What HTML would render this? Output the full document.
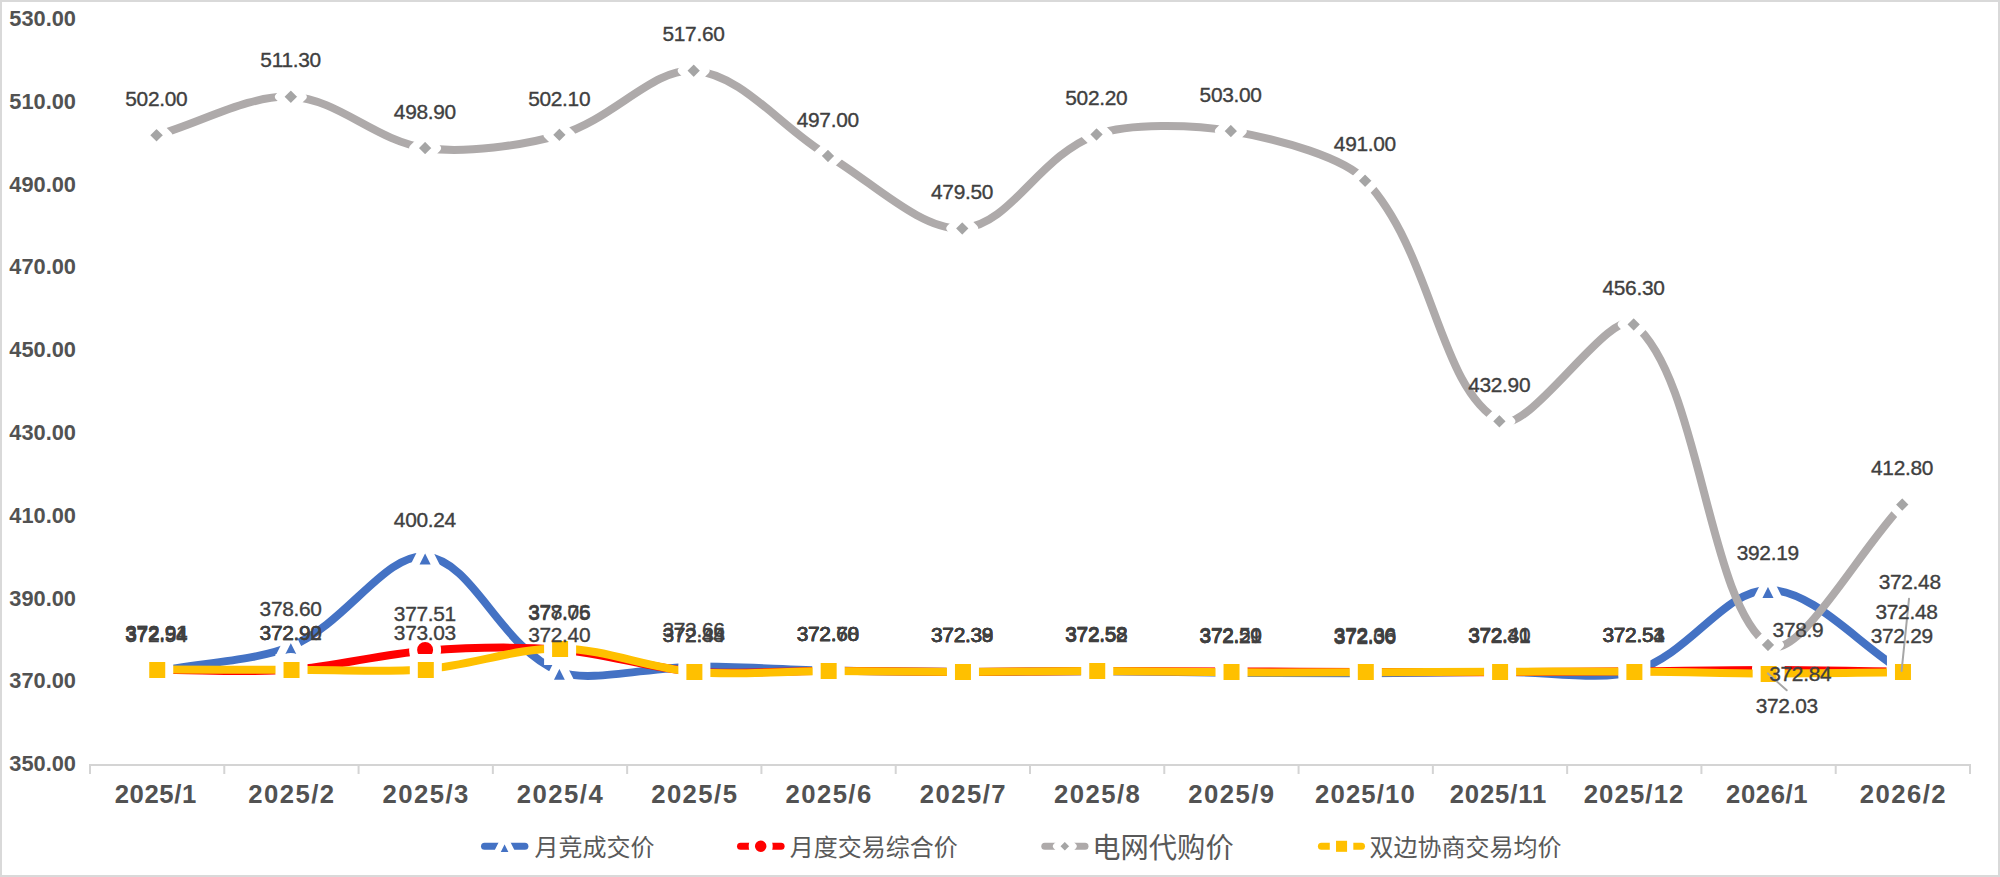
<!DOCTYPE html>
<html lang="zh-CN"><head><meta charset="utf-8"><title>chart</title>
<style>
html,body{margin:0;padding:0;background:#fff;}
body{width:2000px;height:877px;overflow:hidden;}
svg{display:block;}
text{font-family:"Liberation Sans","Noto Sans CJK SC",sans-serif;}
.ya{font-weight:bold;font-size:21.8px;fill:#525252;}
.xa{font-weight:bold;font-size:25.7px;letter-spacing:0.6px;fill:#525252;}
.dl{font-size:20.9px;letter-spacing:-0.3px;fill:#404040;stroke:#404040;stroke-width:0.35px;}
.lg{font-family:"Liberation Sans","Noto Sans CJK SC",sans-serif;font-size:24px;fill:#595959;}
</style></head><body>
<svg width="2000" height="877" viewBox="0 0 2000 877">
<rect x="0" y="0" width="2000" height="877" fill="#fff"/>
<rect x="1" y="1" width="1998" height="875" fill="none" stroke="#D9D9D9" stroke-width="2"/>
<g stroke="#D4D4D4" stroke-width="2" fill="none">
<line x1="89" y1="765" x2="1971" y2="765"/>
<line x1="90" y1="765" x2="90" y2="774"/>
<line x1="224.29" y1="765" x2="224.29" y2="774"/>
<line x1="358.57" y1="765" x2="358.57" y2="774"/>
<line x1="492.86" y1="765" x2="492.86" y2="774"/>
<line x1="627.14" y1="765" x2="627.14" y2="774"/>
<line x1="761.43" y1="765" x2="761.43" y2="774"/>
<line x1="895.71" y1="765" x2="895.71" y2="774"/>
<line x1="1030" y1="765" x2="1030" y2="774"/>
<line x1="1164.29" y1="765" x2="1164.29" y2="774"/>
<line x1="1298.57" y1="765" x2="1298.57" y2="774"/>
<line x1="1432.86" y1="765" x2="1432.86" y2="774"/>
<line x1="1567.14" y1="765" x2="1567.14" y2="774"/>
<line x1="1701.43" y1="765" x2="1701.43" y2="774"/>
<line x1="1835.71" y1="765" x2="1835.71" y2="774"/>
<line x1="1970" y1="765" x2="1970" y2="774"/>
</g>
<g class="ya" text-anchor="end">
<text x="76" y="771.2">350.00</text>
<text x="76" y="688.39">370.00</text>
<text x="76" y="605.58">390.00</text>
<text x="76" y="522.76">410.00</text>
<text x="76" y="439.95">430.00</text>
<text x="76" y="357.14">450.00</text>
<text x="76" y="274.33">470.00</text>
<text x="76" y="191.52">490.00</text>
<text x="76" y="108.7">510.00</text>
<text x="76" y="25.89">530.00</text>
</g>
<g class="xa" text-anchor="middle">
<text x="155.74" y="803" style="letter-spacing:0.6px">2025/1</text>
<text x="291.93" y="803" style="letter-spacing:1.45px">2025/2</text>
<text x="426.21" y="803" style="letter-spacing:1.45px">2025/3</text>
<text x="560.5" y="803" style="letter-spacing:1.45px">2025/4</text>
<text x="694.79" y="803" style="letter-spacing:1.45px">2025/5</text>
<text x="829.07" y="803" style="letter-spacing:1.45px">2025/6</text>
<text x="963.36" y="803" style="letter-spacing:1.45px">2025/7</text>
<text x="1097.64" y="803" style="letter-spacing:1.45px">2025/8</text>
<text x="1231.93" y="803" style="letter-spacing:1.45px">2025/9</text>
<text x="1365.51" y="803" style="letter-spacing:1.15px">2025/10</text>
<text x="1498.4" y="803" style="letter-spacing:0.85px">2025/11</text>
<text x="1634.09" y="803" style="letter-spacing:1.15px">2025/12</text>
<text x="1767.17" y="803" style="letter-spacing:0.6px">2026/1</text>
<text x="1903.36" y="803" style="letter-spacing:1.45px">2026/2</text>
</g>
<g>
<path d="M157.14 671.27C201.9 662.91 257.96 660.47 291.43 646.18C347.49 622.24 385.16 552.7 425.71 556.58C474.68 561.26 498.54 646.67 560 671.85C588.07 683.35 649.49 666.84 694.29 666.63C739.01 666.43 783.76 669.73 828.57 670.61C873.29 671.48 918.09 671.77 962.86 671.89C1007.61 672.02 1052.39 671.23 1097.14 671.35C1141.91 671.48 1186.66 672.32 1231.43 672.64C1276.19 672.95 1320.96 673.39 1365.71 673.26C1410.48 673.13 1455.23 672.18 1500 671.85C1544.76 671.52 1601.2 681.37 1634.29 671.27C1690.72 654.05 1723.85 589.87 1768.57 589.91C1813.38 589.95 1858.1 644.32 1902.86 671.52" fill="none" stroke="#4472C4" stroke-width="8" stroke-linecap="round" stroke-linejoin="round"/>
<polygon points="156.54,659.27 168.54,683.27 144.54,683.27" fill="#4472C4" stroke="#fff" stroke-width="8" stroke-linejoin="miter" stroke-miterlimit="10"/>
<polygon points="290.83,634.18 302.83,658.18 278.83,658.18" fill="#4472C4" stroke="#fff" stroke-width="8" stroke-linejoin="miter" stroke-miterlimit="10"/>
<polygon points="425.11,544.58 437.11,568.58 413.11,568.58" fill="#4472C4" stroke="#fff" stroke-width="8" stroke-linejoin="miter" stroke-miterlimit="10"/>
<polygon points="559.4,659.85 571.4,683.85 547.4,683.85" fill="#4472C4" stroke="#fff" stroke-width="8" stroke-linejoin="miter" stroke-miterlimit="10"/>
<polygon points="693.69,654.63 705.69,678.63 681.69,678.63" fill="#4472C4" stroke="#fff" stroke-width="8" stroke-linejoin="miter" stroke-miterlimit="10"/>
<polygon points="827.97,658.61 839.97,682.61 815.97,682.61" fill="#4472C4" stroke="#fff" stroke-width="8" stroke-linejoin="miter" stroke-miterlimit="10"/>
<polygon points="962.26,659.89 974.26,683.89 950.26,683.89" fill="#4472C4" stroke="#fff" stroke-width="8" stroke-linejoin="miter" stroke-miterlimit="10"/>
<polygon points="1096.54,659.35 1108.54,683.35 1084.54,683.35" fill="#4472C4" stroke="#fff" stroke-width="8" stroke-linejoin="miter" stroke-miterlimit="10"/>
<polygon points="1230.83,660.64 1242.83,684.64 1218.83,684.64" fill="#4472C4" stroke="#fff" stroke-width="8" stroke-linejoin="miter" stroke-miterlimit="10"/>
<polygon points="1365.11,661.26 1377.11,685.26 1353.11,685.26" fill="#4472C4" stroke="#fff" stroke-width="8" stroke-linejoin="miter" stroke-miterlimit="10"/>
<polygon points="1499.4,659.85 1511.4,683.85 1487.4,683.85" fill="#4472C4" stroke="#fff" stroke-width="8" stroke-linejoin="miter" stroke-miterlimit="10"/>
<polygon points="1633.69,659.27 1645.69,683.27 1621.69,683.27" fill="#4472C4" stroke="#fff" stroke-width="8" stroke-linejoin="miter" stroke-miterlimit="10"/>
<polygon points="1767.97,577.91 1779.97,601.91 1755.97,601.91" fill="#4472C4" stroke="#fff" stroke-width="8" stroke-linejoin="miter" stroke-miterlimit="10"/>
<polygon points="1902.26,659.52 1914.26,683.52 1890.26,683.52" fill="#4472C4" stroke="#fff" stroke-width="8" stroke-linejoin="miter" stroke-miterlimit="10"/>
</g>
<g>
<path d="M157.14 669.74C201.9 669.73 247.78 672.79 291.43 669.7C337.3 666.44 379.85 654.11 425.71 650.69C469.37 647.44 516.69 646.31 560 649.7C606.22 653.31 648.07 668.07 694.29 671.68C737.59 675.07 783.81 670.66 828.57 670.69C873.33 670.73 918.09 671.82 962.86 671.89C1007.62 671.96 1052.38 671.18 1097.14 671.11C1141.9 671.03 1186.67 671.28 1231.43 671.44C1276.19 671.59 1320.95 671.89 1365.71 672.02C1410.48 672.15 1455.24 672.34 1500 672.22C1544.76 672.11 1589.53 671.68 1634.29 671.31C1679.05 670.95 1723.81 669.99 1768.57 670.03C1813.34 670.06 1858.1 671.02 1902.86 671.52" fill="none" stroke="#FF0000" stroke-width="8" stroke-linecap="round" stroke-linejoin="round"/>
<circle cx="156.54" cy="669.04" r="12" fill="#FF0000" stroke="#fff" stroke-width="8" stroke-linejoin="miter" stroke-miterlimit="10"/>
<circle cx="290.83" cy="669" r="12" fill="#FF0000" stroke="#fff" stroke-width="8" stroke-linejoin="miter" stroke-miterlimit="10"/>
<circle cx="425.11" cy="649.99" r="12" fill="#FF0000" stroke="#fff" stroke-width="8" stroke-linejoin="miter" stroke-miterlimit="10"/>
<circle cx="559.4" cy="649" r="12" fill="#FF0000" stroke="#fff" stroke-width="8" stroke-linejoin="miter" stroke-miterlimit="10"/>
<circle cx="693.69" cy="670.98" r="12" fill="#FF0000" stroke="#fff" stroke-width="8" stroke-linejoin="miter" stroke-miterlimit="10"/>
<circle cx="827.97" cy="669.99" r="12" fill="#FF0000" stroke="#fff" stroke-width="8" stroke-linejoin="miter" stroke-miterlimit="10"/>
<circle cx="962.26" cy="671.19" r="12" fill="#FF0000" stroke="#fff" stroke-width="8" stroke-linejoin="miter" stroke-miterlimit="10"/>
<circle cx="1096.54" cy="670.41" r="12" fill="#FF0000" stroke="#fff" stroke-width="8" stroke-linejoin="miter" stroke-miterlimit="10"/>
<circle cx="1230.83" cy="670.74" r="12" fill="#FF0000" stroke="#fff" stroke-width="8" stroke-linejoin="miter" stroke-miterlimit="10"/>
<circle cx="1365.11" cy="671.32" r="12" fill="#FF0000" stroke="#fff" stroke-width="8" stroke-linejoin="miter" stroke-miterlimit="10"/>
<circle cx="1499.4" cy="671.52" r="12" fill="#FF0000" stroke="#fff" stroke-width="8" stroke-linejoin="miter" stroke-miterlimit="10"/>
<circle cx="1633.69" cy="670.61" r="12" fill="#FF0000" stroke="#fff" stroke-width="8" stroke-linejoin="miter" stroke-miterlimit="10"/>
<circle cx="1767.97" cy="669.33" r="12" fill="#FF0000" stroke="#fff" stroke-width="8" stroke-linejoin="miter" stroke-miterlimit="10"/>
<circle cx="1902.26" cy="670.82" r="12" fill="#FF0000" stroke="#fff" stroke-width="8" stroke-linejoin="miter" stroke-miterlimit="10"/>
</g>
<g>
<path d="M157.14 135.23C201.9 122.39 249.01 94.69 291.43 96.72C338.53 98.97 375.21 140.9 425.71 148.06C464.73 153.6 523.36 145.38 560 134.81C612.88 119.57 653.41 67.42 694.29 70.64C742.93 74.46 781.47 128.27 828.57 155.93C871 180.85 921.94 231.67 962.86 228.39C1011.46 224.5 1038.7 155.58 1097.14 134.4C1128.22 123.14 1192.61 124.39 1231.43 131.09C1282.14 139.84 1344.47 157.82 1365.71 180.78C1434 254.57 1438.59 388.49 1500 421.34C1528.11 436.38 1611.18 305.22 1634.29 324.45C1700.7 379.75 1707.55 604.01 1768.57 644.94C1797.08 664.05 1858.1 551.36 1902.86 504.57" fill="none" stroke="#AEAAAA" stroke-width="8" stroke-linecap="round" stroke-linejoin="round"/>
<polygon points="156.54,123.41 168.36,135.23 156.54,147.05 144.72,135.23" fill="#A5A5A5" stroke="#fff" stroke-width="8" stroke-linejoin="round" stroke-miterlimit="10"/>
<polygon points="290.83,84.9 302.65,96.72 290.83,108.54 279.01,96.72" fill="#A5A5A5" stroke="#fff" stroke-width="8" stroke-linejoin="round" stroke-miterlimit="10"/>
<polygon points="425.11,136.24 436.93,148.06 425.11,159.88 413.29,148.06" fill="#A5A5A5" stroke="#fff" stroke-width="8" stroke-linejoin="round" stroke-miterlimit="10"/>
<polygon points="559.4,122.99 571.22,134.81 559.4,146.63 547.58,134.81" fill="#A5A5A5" stroke="#fff" stroke-width="8" stroke-linejoin="round" stroke-miterlimit="10"/>
<polygon points="693.69,58.82 705.51,70.64 693.69,82.46 681.87,70.64" fill="#A5A5A5" stroke="#fff" stroke-width="8" stroke-linejoin="round" stroke-miterlimit="10"/>
<polygon points="827.97,144.11 839.79,155.93 827.97,167.75 816.15,155.93" fill="#A5A5A5" stroke="#fff" stroke-width="8" stroke-linejoin="round" stroke-miterlimit="10"/>
<polygon points="962.26,216.57 974.08,228.39 962.26,240.21 950.44,228.39" fill="#A5A5A5" stroke="#fff" stroke-width="8" stroke-linejoin="round" stroke-miterlimit="10"/>
<polygon points="1096.54,122.58 1108.36,134.4 1096.54,146.22 1084.72,134.4" fill="#A5A5A5" stroke="#fff" stroke-width="8" stroke-linejoin="round" stroke-miterlimit="10"/>
<polygon points="1230.83,119.27 1242.65,131.09 1230.83,142.91 1219.01,131.09" fill="#A5A5A5" stroke="#fff" stroke-width="8" stroke-linejoin="round" stroke-miterlimit="10"/>
<polygon points="1365.11,168.96 1376.93,180.78 1365.11,192.6 1353.29,180.78" fill="#A5A5A5" stroke="#fff" stroke-width="8" stroke-linejoin="round" stroke-miterlimit="10"/>
<polygon points="1499.4,409.52 1511.22,421.34 1499.4,433.16 1487.58,421.34" fill="#A5A5A5" stroke="#fff" stroke-width="8" stroke-linejoin="round" stroke-miterlimit="10"/>
<polygon points="1633.69,312.63 1645.51,324.45 1633.69,336.27 1621.87,324.45" fill="#A5A5A5" stroke="#fff" stroke-width="8" stroke-linejoin="round" stroke-miterlimit="10"/>
<polygon points="1767.97,633.12 1779.79,644.94 1767.97,656.76 1756.15,644.94" fill="#A5A5A5" stroke="#fff" stroke-width="8" stroke-linejoin="round" stroke-miterlimit="10"/>
<polygon points="1902.26,492.75 1914.08,504.57 1902.26,516.39 1890.44,504.57" fill="#A5A5A5" stroke="#fff" stroke-width="8" stroke-linejoin="round" stroke-miterlimit="10"/>
</g>
<g>
<path d="M157.14 669.61C201.9 669.67 246.67 669.84 291.43 669.78C336.19 669.72 382.27 672.7 425.71 669.24C471.79 665.58 515.59 647.95 560 648.41C605.12 648.89 647.86 668.15 694.29 672.06C737.38 675.69 783.81 671.04 828.57 671.02C873.33 671 918.09 671.92 962.86 671.93C1007.62 671.95 1052.38 671.04 1097.14 671.11C1141.91 671.17 1186.66 672.11 1231.43 672.31C1276.19 672.5 1320.95 672.35 1365.71 672.26C1410.48 672.18 1455.24 671.95 1500 671.81C1544.76 671.66 1589.54 671.13 1634.29 671.4C1679.06 671.66 1723.8 673.23 1768.57 673.38C1813.32 673.53 1858.1 672.66 1902.86 672.31" fill="none" stroke="#FFC000" stroke-width="8" stroke-linecap="round" stroke-linejoin="round"/>
<rect x="145.24" y="658" width="24" height="24" fill="#FFC000" stroke="#fff" stroke-width="8" stroke-linejoin="miter" stroke-miterlimit="10"/>
<rect x="279.53" y="658" width="24" height="24" fill="#FFC000" stroke="#fff" stroke-width="8" stroke-linejoin="miter" stroke-miterlimit="10"/>
<rect x="413.81" y="658" width="24" height="24" fill="#FFC000" stroke="#fff" stroke-width="8" stroke-linejoin="miter" stroke-miterlimit="10"/>
<rect x="548.1" y="637" width="24" height="24" fill="#FFC000" stroke="#fff" stroke-width="8" stroke-linejoin="miter" stroke-miterlimit="10"/>
<rect x="682.39" y="660" width="24" height="24" fill="#FFC000" stroke="#fff" stroke-width="8" stroke-linejoin="miter" stroke-miterlimit="10"/>
<rect x="816.67" y="659" width="24" height="24" fill="#FFC000" stroke="#fff" stroke-width="8" stroke-linejoin="miter" stroke-miterlimit="10"/>
<rect x="950.96" y="660" width="24" height="24" fill="#FFC000" stroke="#fff" stroke-width="8" stroke-linejoin="miter" stroke-miterlimit="10"/>
<rect x="1085.24" y="659" width="24" height="24" fill="#FFC000" stroke="#fff" stroke-width="8" stroke-linejoin="miter" stroke-miterlimit="10"/>
<rect x="1219.53" y="660" width="24" height="24" fill="#FFC000" stroke="#fff" stroke-width="8" stroke-linejoin="miter" stroke-miterlimit="10"/>
<rect x="1353.81" y="660" width="24" height="24" fill="#FFC000" stroke="#fff" stroke-width="8" stroke-linejoin="miter" stroke-miterlimit="10"/>
<rect x="1488.1" y="660" width="24" height="24" fill="#FFC000" stroke="#fff" stroke-width="8" stroke-linejoin="miter" stroke-miterlimit="10"/>
<rect x="1622.39" y="660" width="24" height="24" fill="#FFC000" stroke="#fff" stroke-width="8" stroke-linejoin="miter" stroke-miterlimit="10"/>
<rect x="1756.67" y="662" width="24" height="24" fill="#FFC000" stroke="#fff" stroke-width="8" stroke-linejoin="miter" stroke-miterlimit="10"/>
<rect x="1890.96" y="660" width="24" height="24" fill="#FFC000" stroke="#fff" stroke-width="8" stroke-linejoin="miter" stroke-miterlimit="10"/>
</g>
<g stroke="#A6A6A6" stroke-width="2" fill="none" stroke-linecap="round">
<line x1="1909" y1="598.8" x2="1901.6" y2="670.9"/>
<line x1="1767.9" y1="673.4" x2="1786.7" y2="690.3"/>
</g>
<g class="dl" text-anchor="middle">
<text x="156.34" y="641.57">372.54</text>
<text x="290.63" y="616.48">378.60</text>
<text x="424.91" y="526.88">400.24</text>
<text x="559.2" y="642.15">372.40</text>
<text x="693.49" y="636.93">373.66</text>
<text x="827.77" y="640.91">372.70</text>
<text x="962.06" y="642.19">372.39</text>
<text x="1096.34" y="641.65">372.52</text>
<text x="1230.63" y="642.94">372.21</text>
<text x="1364.91" y="643.56">372.06</text>
<text x="1499.2" y="642.15">372.40</text>
<text x="1633.49" y="641.57">372.54</text>
<text x="1767.77" y="560.21">392.19</text>
<text x="1909.7" y="588.7">372.48</text>
<text x="156.34" y="640.04">372.91</text>
<text x="290.63" y="640">372.92</text>
<text x="424.91" y="620.99">377.51</text>
<text x="559.2" y="620">377.75</text>
<text x="693.49" y="641.98">372.44</text>
<text x="827.77" y="640.99">372.68</text>
<text x="962.06" y="642.19">372.39</text>
<text x="1096.34" y="641.41">372.58</text>
<text x="1230.63" y="641.74">372.50</text>
<text x="1364.91" y="642.32">372.36</text>
<text x="1499.2" y="642.52">372.31</text>
<text x="1633.49" y="641.61">372.53</text>
<text x="1800.3" y="680.6">372.84</text>
<text x="1906.5" y="618.7">372.48</text>
<text x="156.34" y="105.93">502.00</text>
<text x="290.63" y="67.42">511.30</text>
<text x="424.91" y="118.76">498.90</text>
<text x="559.2" y="105.51">502.10</text>
<text x="693.49" y="41.34">517.60</text>
<text x="827.77" y="126.63">497.00</text>
<text x="962.06" y="199.09">479.50</text>
<text x="1096.34" y="105.1">502.20</text>
<text x="1230.63" y="101.79">503.00</text>
<text x="1364.91" y="151.48">491.00</text>
<text x="1499.2" y="392.04">432.90</text>
<text x="1633.49" y="295.15">456.30</text>
<text x="1798" y="636.6">378.9</text>
<text x="1902.06" y="475.27">412.80</text>
<text x="156.34" y="639.91">372.94</text>
<text x="290.63" y="640.08">372.90</text>
<text x="424.91" y="639.54">373.03</text>
<text x="559.2" y="618.71">378.06</text>
<text x="693.49" y="642.36">372.35</text>
<text x="827.77" y="641.32">372.60</text>
<text x="962.06" y="642.23">372.38</text>
<text x="1096.34" y="641.41">372.58</text>
<text x="1230.63" y="642.61">372.29</text>
<text x="1364.91" y="642.56">372.30</text>
<text x="1499.2" y="642.11">372.41</text>
<text x="1633.49" y="641.7">372.51</text>
<text x="1786.8" y="712.8">372.03</text>
<text x="1901.8" y="643">372.29</text>
</g>
<g>
<line x1="484.5" y1="846.3" x2="524.9" y2="846.3" stroke="#4472C4" stroke-width="7" stroke-linecap="round"/>
<polygon points="504.6,837.42 513.47,855.17 495.72,855.17" fill="#4472C4" stroke="#fff" stroke-width="6.25" stroke-linejoin="miter" stroke-miterlimit="10"/>
<text class="lg" x="534.5" y="856.1" style="font-size:24px">月竞成交价</text>
</g>
<g>
<line x1="740.5" y1="846.3" x2="781.1" y2="846.3" stroke="#FF0000" stroke-width="7" stroke-linecap="round"/>
<circle cx="760.7" cy="846.3" r="8.88" fill="#FF0000" stroke="#fff" stroke-width="6.25" stroke-linejoin="miter" stroke-miterlimit="10"/>
<text class="lg" x="789.7" y="856.1" style="font-size:24px">月度交易综合价</text>
</g>
<g>
<line x1="1044.8" y1="846.3" x2="1085" y2="846.3" stroke="#AEAAAA" stroke-width="7" stroke-linecap="round"/>
<polygon points="1064.8,837.56 1073.54,846.3 1064.8,855.04 1056.06,846.3" fill="#A5A5A5" stroke="#fff" stroke-width="6.25" stroke-linejoin="round" stroke-miterlimit="10"/>
<text class="lg" x="1092.2" y="858.2" style="font-size:28.3px">电网代购价</text>
</g>
<g>
<line x1="1321.4" y1="846.3" x2="1361.5" y2="846.3" stroke="#FFC000" stroke-width="7" stroke-linecap="round"/>
<rect x="1332.9" y="837.65" width="17.3" height="17.3" fill="#FFC000" stroke="#fff" stroke-width="6.25" stroke-linejoin="miter" stroke-miterlimit="10"/>
<text class="lg" x="1369.5" y="856.1" style="font-size:24px">双边协商交易均价</text>
</g>
</svg>
</body></html>
